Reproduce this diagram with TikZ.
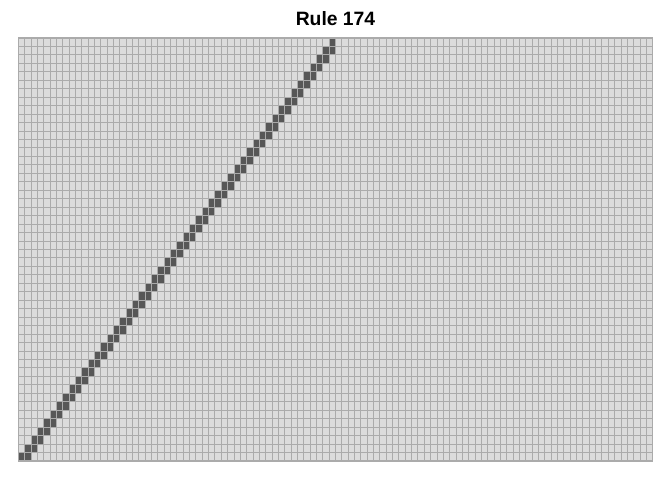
\documentclass[tikz,border=0pt]{standalone}
\usepackage{fontspec}
\setmainfont{Liberation Sans}
\definecolor{cellfill}{HTML}{DCDCDC}
\definecolor{cellline}{HTML}{ABABAB}
\definecolor{cellon}{HTML}{575757}

\tikzset{
  cellbg/.style={fill=cellfill},
  cellgrid/.style={draw=cellline, line width=0.55pt},
  alive/.style={fill=cellon},
  plottitle/.style={font=\bfseries\fontsize{11}{13}\selectfont, anchor=base}
}

\begin{document}
\begin{tikzpicture}[x=0.02cm, y=-0.02cm]
  \fill[white] (0,0) rectangle (672,480);
  \useasboundingbox (0,0) rectangle (672,480);
  \node[plottitle] (title) at (335.5,26) {Rule 174};
  % grid background
  \fill[cellbg] (18.3,38) rectangle (652.7,461);
  % live cells: one at the top, then two per row going left
  \fill[alive] ({18.3+49*6.344},38) rectangle ++(6.344,8.46);
  \foreach \r in {1,...,49}{
    \fill[alive] ({18.3+(49-\r)*6.344},{38+\r*8.46}) rectangle ++(12.688,8.46);
  }
  % grid lines
  \foreach \c in {0,...,100}
    \draw[cellgrid] ({18.3+\c*6.344},38) -- ({18.3+\c*6.344},461);
  \foreach \r in {0,...,50}
    \draw[cellgrid] (18.3,{38+\r*8.46}) -- (652.7,{38+\r*8.46});
  \draw[cellgrid, line width=0.8pt] (18.3,38) rectangle (652.7,461);
\end{tikzpicture}
\end{document}
